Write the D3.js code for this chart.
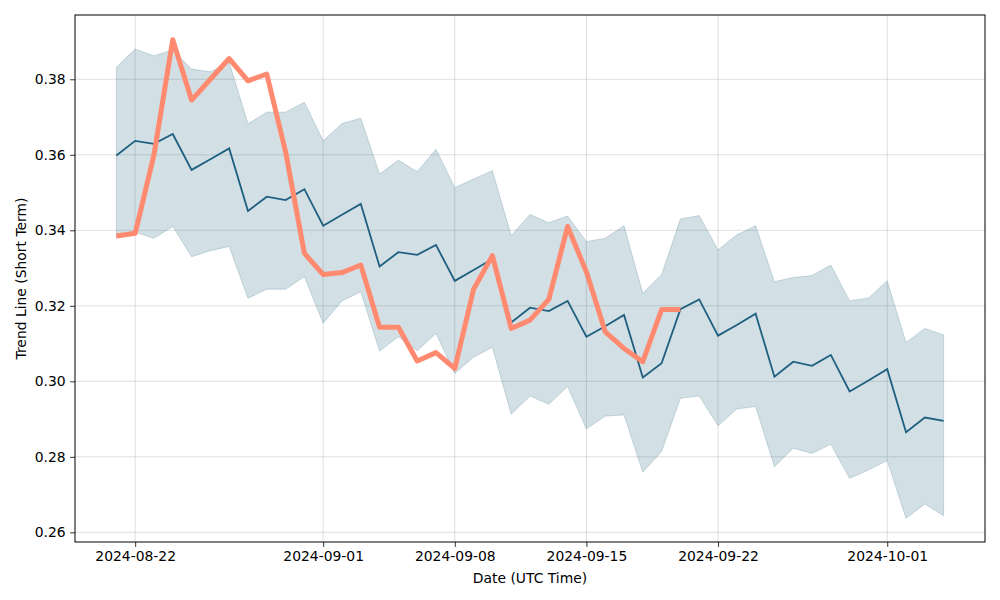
<!DOCTYPE html>
<html><head><meta charset="utf-8">
<script src="https://cdn.jsdelivr.net/npm/d3@7"></script>
<style>body{margin:0;background:#fff}svg{display:block}text{font-family:"DejaVu Sans",sans-serif}</style>
</head><body><svg id="c" width="1000" height="600"></svg>
<script>
const startDate = "2024-08-21";
const meanValues = [0.3598,0.3637,0.3629,0.3655,0.3560,0.3588,0.3617,0.3451,0.3489,0.3480,0.3509,0.3412,0.3441,0.3470,0.3304,0.3342,0.3335,0.3361,0.3266,0.3295,0.3324,0.3156,0.3195,0.3186,0.3213,0.3118,0.3146,0.3176,0.3010,0.3048,0.3191,0.3217,0.3121,0.3149,0.3179,0.3012,0.3052,0.3041,0.3070,0.2973,0.3002,0.3032,0.2865,0.2904,0.2895];
const upperValues = [0.3832,0.3880,0.3862,0.3878,0.3827,0.3820,0.3845,0.3682,0.3713,0.3713,0.3739,0.3637,0.3683,0.3697,0.3549,0.3586,0.3555,0.3615,0.3513,0.3536,0.3558,0.3386,0.3442,0.3420,0.3438,0.3370,0.3379,0.3412,0.3233,0.3283,0.3430,0.3439,0.3348,0.3388,0.3412,0.3264,0.3275,0.3280,0.3308,0.3213,0.3221,0.3266,0.3103,0.3140,0.3123];
const lowerValues = [0.3379,0.3395,0.3379,0.3410,0.3330,0.3346,0.3357,0.3220,0.3244,0.3244,0.3277,0.3154,0.3213,0.3237,0.3080,0.3118,0.3081,0.3127,0.3021,0.3064,0.3090,0.2913,0.2961,0.2939,0.2986,0.2874,0.2908,0.2911,0.2759,0.2814,0.2955,0.2961,0.2882,0.2927,0.2933,0.2774,0.2823,0.2809,0.2833,0.2743,0.2765,0.2790,0.2637,0.2675,0.2644];
const actualValues = [0.3385,0.3392,0.3600,0.3905,0.3745,0.3800,0.3855,0.3796,0.3814,0.3608,0.3339,0.3283,0.3288,0.3308,0.3143,0.3143,0.3054,0.3076,0.3034,0.3244,0.3333,0.3140,0.3162,0.3217,0.3410,0.3290,0.3131,0.3087,0.3052,0.3190,0.3190];
const xTickLabels = ["2024-08-22","2024-09-01","2024-09-08","2024-09-15","2024-09-22","2024-10-01"];
const yTickValues = [0.26,0.28,0.30,0.32,0.34,0.36,0.38];

const parse = d3.utcParse("%Y-%m-%d");
const day = 864e5;
const t0 = parse(startDate);
const dates = meanValues.map((_, i) => new Date(+t0 + i * day));

const L = 75, R = 985, T = 15, B = 542;
const svg = d3.select("#c");
const x = d3.scaleUtc().domain([new Date(+dates[0] - 2.2 * day), new Date(+dates[dates.length - 1] + 2.2 * day)]).range([L, R]);
const y = d3.scaleLinear().domain([0.25744, 0.39703]).range([B, T]);

const g = svg.append("g");
const xt = xTickLabels.map(parse);
g.selectAll(".gx").data(xt).join("line").attr("x1", d => x(d)).attr("x2", d => x(d)).attr("y1", T).attr("y2", B)
  .attr("stroke", "#b0b0b0").attr("stroke-opacity", 0.5).attr("stroke-width", 0.8);
g.selectAll(".gy").data(yTickValues).join("line").attr("y1", d => y(d)).attr("y2", d => y(d)).attr("x1", L).attr("x2", R)
  .attr("stroke", "#b0b0b0").attr("stroke-opacity", 0.5).attr("stroke-width", 0.8);

const col = "#1f5f7f";
const band = dates.map((d, i) => ({d, lo: lowerValues[i], hi: upperValues[i]}));
g.append("path").datum(band)
  .attr("d", d3.area().x(p => x(p.d)).y0(p => y(p.lo)).y1(p => y(p.hi)))
  .attr("fill", col).attr("fill-opacity", 0.2).attr("stroke", col).attr("stroke-opacity", 0.2).attr("stroke-width", 1);

g.append("path").datum(meanValues)
  .attr("d", d3.line().x((v, i) => x(dates[i])).y(v => y(v)))
  .attr("fill", "none").attr("stroke", col).attr("stroke-width", 1.8);

g.append("path").datum(actualValues)
  .attr("d", d3.line().x((v, i) => x(dates[i])).y(v => y(v)))
  .attr("fill", "none").attr("stroke", "#ff8a70").attr("stroke-width", 5).attr("stroke-linejoin", "round");

const xa = svg.append("g").attr("transform", `translate(0,${B})`)
  .call(d3.axisBottom(x).tickValues(xt).tickFormat(d3.utcFormat("%Y-%m-%d")).tickSizeOuter(0).tickSize(4.9).tickPadding(4.5));
const ya = svg.append("g").attr("transform", `translate(${L},0)`)
  .call(d3.axisLeft(y).tickValues(yTickValues).tickFormat(d3.format(".2f")).tickSizeOuter(0).tickSize(4.9).tickPadding(4.5));
[xa, ya].forEach(a => {
  a.select(".domain").remove();
  a.selectAll("text").attr("font-size", 13.9).attr("fill", "#000").attr("font-family", "DejaVu Sans");
  a.selectAll("line").attr("stroke", "#000").attr("stroke-width", 0.8);
});
svg.append("rect").attr("x", L).attr("y", T).attr("width", R - L).attr("height", B - T)
  .attr("fill", "none").attr("stroke", "#000").attr("stroke-width", 1);

svg.append("text").attr("x", (L + R) / 2).attr("y", 583).attr("text-anchor", "middle").attr("font-size", 13.9).text("Date (UTC Time)");
svg.append("text").attr("transform", `translate(25.5,${(T + B) / 2}) rotate(-90)`).attr("text-anchor", "middle").attr("font-size", 13.9).text("Trend Line (Short Term)");
</script></body></html>
